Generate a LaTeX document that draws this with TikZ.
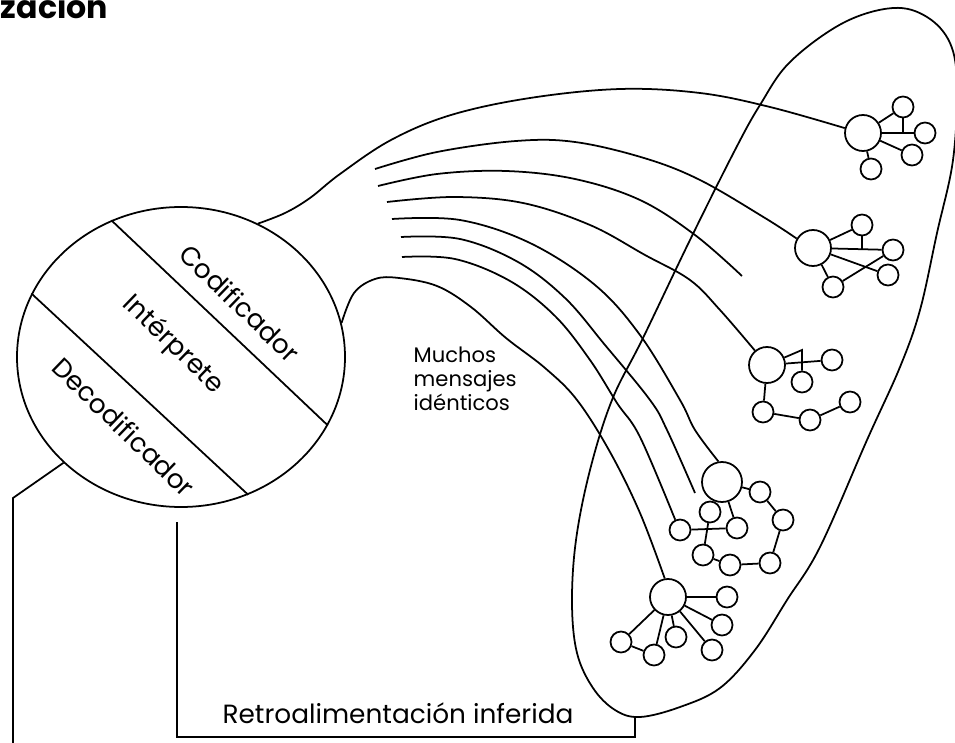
\documentclass[tikz,border=0pt]{standalone}
\usepackage{fontspec}
\setmainfont{Poppins}
\usetikzlibrary{shapes.geometric}

\begin{document}
\begin{tikzpicture}[x=0.2mm, y=-0.2mm, line width=1pt,
    grande/.style={draw, circle, inner sep=0pt, minimum size=7.2mm},
    chico/.style={draw, circle, inner sep=0pt, minimum size=4.2mm},
    rotulo/.style={font=\fontsize{15}{18}\selectfont},
    curva/.style={smooth, tension=0.6}]
    \useasboundingbox (0,0) rectangle (955,743);

    % 标题（上面被截掉）
    \node[anchor=base west, inner sep=0pt, font=\fontsize{18}{20}\selectfont\bfseries] (titulo) at (0,19) {zación};

    % 左边的圆
    \node[draw, ellipse, inner sep=0pt, minimum width=65.6mm, minimum height=60mm] (agente) at (181,357) {};
    \draw (agente.117) -- (agente.-25);
    \draw (agente.157) -- (agente.-64);
    \node[rotulo, rotate=-44] (cod) at (240,303) {Codificador};
    \node[rotulo, rotate=-44] (int) at (173,345) {Intérprete};
    \node[rotulo, rotate=-44] (dec) at (124,427) {Decodificador};

    % 听众
    \draw plot[smooth cycle, tension=0.6] coordinates {(893,8) (927,17) (950,43) (957,85) (953,160) (937,233) (920,310) (900,367) (867,440) (820,547) (787,600) (755,650) (720,688) (680,707) (640,717) (615,710) (593,688) (577,653) (572,603) (576,540) (590,470) (612,400) (643,338) (690,240) (735,150) (760,105) (790,62) (843,23)};
    \coordinate (pie) at (635,716);

    % 第一组
    \node[grande] (big1) at (863,133) {};
    \node[chico] (p1a) at (903,107) {};
    \node[chico] (p1b) at (925,133) {};
    \node[chico] (p1c) at (912,155) {};
    \node[chico] (p1d) at (871,169) {};
    \draw (big1) -- (p1a);
    \draw (big1) -- (p1b);
    \draw (big1) -- (p1c);
    \draw (big1) -- (p1d);
    \draw (p1a) -- (p1a |- p1b);

    % 第二组
    \node[grande] (big2) at (813,248) {};
    \node[chico] (p2a) at (862,225) {};
    \node[chico] (p2b) at (893,250) {};
    \node[chico] (p2c) at (888,275) {};
    \node[chico] (p2d) at (833,287) {};
    \draw (big2) -- (p2a);
    \draw (big2) -- (p2b);
    \draw (big2) -- (p2c);
    \draw (big2) -- (p2d);
    \draw (p2d) -- (p2b);
    \draw (p2a) -- (p2a |- p2b);

    % 第三组
    \node[grande] (big3) at (767,365) {};
    \node[chico] (p3a) at (832,360) {};
    \node[chico] (p3b) at (802,382) {};
    \node[chico] (p3c) at (763,412) {};
    \node[chico] (p3d) at (810,420) {};
    \node[chico] (p3e) at (850,402) {};
    \coordinate (j3) at (802,350);
    \draw (big3) -- (p3a);
    \draw (big3) -- (j3) -- (p3b);
    \draw (big3) -- (p3c);
    \draw (p3c) -- (p3d);
    \draw (p3d) -- (p3e);

    % 第四组
    \node[grande, minimum size=8mm] (big4) at (722,482) {};
    \node[chico] (p4a) at (760,492) {};
    \node[chico] (p4b) at (783,520) {};
    \node[chico] (p4c) at (770,563) {};
    \node[chico] (p4d) at (730,565) {};
    \node[chico] (p4e) at (703,555) {};
    \node[chico] (p4f) at (710,512) {};
    \node[chico] (p4h) at (737,528) {};
    \node[chico] (p4i) at (680,530) {};
    \draw (big4) -- (p4a);
    \draw (p4a) -- (p4b);
    \draw (p4b) -- (p4c);
    \draw (p4c) -- (p4d);
    \draw (p4d) -- (p4e);
    \draw (p4e) -- (p4f);
    \draw (big4) -- (p4h);
    \draw (p4i) -- (p4h);

    % 第五组
    \node[grande] (big5) at (668,597) {};
    \node[chico] (p5a) at (727,597) {};
    \node[chico] (p5b) at (722,625) {};
    \node[chico] (p5c) at (676,637) {};
    \node[chico] (p5d) at (712,650) {};
    \node[chico] (p5e) at (621,642) {};
    \node[chico] (p5f) at (654,655) {};
    \draw (big5) -- (p5a);
    \draw (big5) -- (p5b);
    \draw (big5) -- (p5c);
    \draw (big5) -- (p5d);
    \draw (big5) -- (p5e);
    \draw (big5) -- (p5f);
    \draw (p5e) -- (p5f);

    % 消息
    \coordinate (m1) at (375,169);
    \coordinate (m2) at (378,186);
    \coordinate (m3) at (387,202);
    \coordinate (m4) at (392,219);
    \coordinate (m5) at (401,237);
    \coordinate (m6) at (402,257);
    \coordinate (f1) at (742,276);
    \coordinate (f2) at (695,493);
    \draw plot[curva] coordinates {(agente.60) (285,213) (310,198) (340,174) (391,140) (451,115) (530,98) (620,89) (700,93) (770,107) (big1.165)};
    \draw plot[curva] coordinates {(m1) (437,152) (516,141) (575,142) (644,158) (700,180) (765,218) (big2.150)};
    \draw plot[curva] coordinates {(m2) (437,174) (506,171) (575,179) (640,200) (695,235) (f1)};
    \draw plot[curva] coordinates {(m3) (454,197) (523,203) (590,225) (645,255) (690,280) (720,310) (big3.130)};
    \draw plot[curva] coordinates {(m4) (460,220) (530,243) (595,285) (640,335) (680,400) (695,430) (big4.100)};
    \draw plot[curva] coordinates {(m5) (460,239) (518,262) (565,298) (605,345) (650,400) (667,430) (f2)};
    \draw plot[curva] coordinates {(m6) (455,259) (510,281) (555,316) (590,360) (617,403) (640,437) (p4i.115)};
    \draw plot[curva] coordinates {(agente.12) (354,293) (375,279) (399,278) (437,286) (471,307) (506,338) (545,368) (577,400) (610,452) (640,513) (big5.100)};
    \node[anchor=west, align=left, font=\fontsize{12}{13.5}\selectfont] (muchos) at (407,379) {Muchos\\mensajes\\idénticos};

    % 反馈
    \coordinate (arriba) at (177,522);
    \coordinate (esquina) at (177,737);
    \draw (arriba) -- (esquina) -| (pie);
    \node[rotulo] (retro) at (398,713) {Retroalimentación inferida};
    \coordinate (codo) at (13,498);
    \coordinate (fuera) at (13,760);
    \draw (agente.222) -- (codo) -- (fuera);
\end{tikzpicture}
\end{document}
